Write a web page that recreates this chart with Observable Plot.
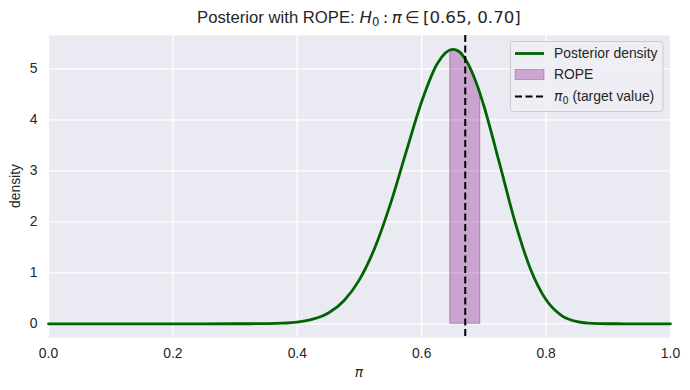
<!DOCTYPE html>
<html>
<head>
<meta charset="utf-8">
<script src="https://cdn.jsdelivr.net/npm/d3@7"></script>
<script src="https://cdn.jsdelivr.net/npm/@observablehq/plot@0.6"></script>
<style>
  html, body { margin: 0; padding: 0; background: white; }
  #chart { width: 690px; height: 390px; }
</style>
</head>
<body>
<div id="chart"></div>
<script>
// Posterior density curve
const piGrid = [0, 0.1, 0.2, 0.3, 0.325, 0.35, 0.375, 0.4, 0.425, 0.45, 0.475, 0.5, 0.525, 0.55, 0.575, 0.6, 0.625, 0.65, 0.66, 0.67, 0.68, 0.69, 0.7, 0.725, 0.75, 0.775, 0.8, 0.825, 0.85, 0.875, 0.9, 0.925, 1.0];
const densityVals = [0, 0, 0, 0.0002, 0.0008, 0.0032, 0.011, 0.034, 0.090, 0.212, 0.452, 0.865, 1.50, 2.36, 3.37, 4.36, 5.10, 5.38, 5.34, 5.19, 4.96, 4.65, 4.27, 3.15, 2.00, 1.07, 0.47, 0.16, 0.041, 0.007, 0.001, 0, 0];

// ROPE region (shaded under the curve), edges as drawn in the picture
const ropeX = [0.646, 0.66, 0.67, 0.68, 0.69, 0.694];
const ropeY = [5.38, 5.34, 5.19, 4.96, 4.65, 4.51];

// target value
const piTarget = [0.67];

// ticks
const xTicks = [0, 0.2, 0.4, 0.6, 0.8, 1.0];
const yTicks = [0, 1, 2, 3, 4, 5];

const curveData = piGrid.map((x, i) => ({x, y: densityVals[i]}));
const ropeData = ropeX.map((x, i) => ({x, y: ropeY[i]}));

const svg = Plot.plot({
  width: 690,
  height: 390,
  marginTop: 35,
  marginBottom: 53,
  marginLeft: 48,
  marginRight: 20,
  x: {domain: [0, 1]},
  y: {domain: [-0.269, 5.653]},
  style: {fontFamily: "'Liberation Sans', Arial, sans-serif", fontSize: "13.9px", color: "#262626", background: "white"},
  marks: [
    Plot.frame({fill: "#EAEAF2", stroke: null}),
    Plot.ruleX(xTicks, {stroke: "white", strokeWidth: 1.3}),
    Plot.ruleY(yTicks, {stroke: "white", strokeWidth: 1.3}),
    Plot.areaY(ropeData, {x: "x", y: "y", fill: "purple", fillOpacity: 0.3, stroke: "purple", strokeOpacity: 0.3, strokeWidth: 1.3, curve: "monotone-x"}),
    Plot.line(curveData, {x: "x", y: "y", stroke: "#006400", strokeWidth: 2.8, curve: "monotone-x"}),
    Plot.ruleX(piTarget, {stroke: "black", strokeWidth: 2, strokeDasharray: "7,3.5"}),
    Plot.axisX({ticks: xTicks, tickSize: 0, tickPadding: 11, tickFormat: d => d.toFixed(1), label: null}),
    Plot.axisY({ticks: yTicks, tickSize: 0, tickPadding: 11, tickFormat: d => String(d), label: null})
  ]
});

document.getElementById("chart").appendChild(svg);

const s = d3.select(svg);
const math = "'DejaVu Sans', sans-serif";
const txt = "'Liberation Sans', Arial, sans-serif";

// Title
const title = s.append("text")
  .attr("x", 359).attr("y", 23)
  .attr("text-anchor", "middle")
  .attr("fill", "#262626")
  .style("font-size", "16.7px")
  .style("font-family", txt);
title.append("tspan").text("Posterior with ROPE: ");
title.append("tspan").style("font-family", math).style("font-style", "italic").text("H");
title.append("tspan").style("font-family", math).style("font-size", "11.7px").attr("dy", 3).text("0");
title.append("tspan").style("font-family", math).attr("dy", -3).text("\u2009:\u2009");
title.append("tspan").style("font-family", math).style("font-style", "italic").text("π");
title.append("tspan").style("font-family", math).text("\u2009∈\u2009[0.65, 0.70]");

// Axis labels
s.append("text")
  .attr("x", 359).attr("y", 377)
  .attr("text-anchor", "middle")
  .attr("fill", "#262626")
  .style("font-family", math).style("font-style", "italic").style("font-size", "13.9px")
  .text("π");

s.append("text")
  .attr("transform", "translate(20,186) rotate(-90)")
  .attr("text-anchor", "middle")
  .attr("fill", "#262626")
  .style("font-family", txt).style("font-size", "13.9px")
  .text("density");

// Legend
const lg = s.append("g").attr("text-anchor", "start");
lg.append("rect")
  .attr("x", 510.5).attr("y", 41.5).attr("width", 152.5).attr("height", 70)
  .attr("rx", 3)
  .attr("fill", "#EEEEF4").attr("fill-opacity", 0.9)
  .attr("stroke", "#CCCCCC").attr("stroke-width", 1);

lg.append("line").attr("x1", 515).attr("x2", 544).attr("y1", 53.5).attr("y2", 53.5)
  .attr("stroke", "#006400").attr("stroke-width", 2.8);
lg.append("text").attr("x", 554).attr("y", 53.5).attr("dy", "0.35em")
  .attr("text-anchor", "start")
  .attr("fill", "#262626").style("font-family", txt).style("font-size", "13.9px")
  .text("Posterior density");

lg.append("rect").attr("x", 515).attr("y", 69.5).attr("width", 29).attr("height", 10)
  .attr("fill", "purple").attr("fill-opacity", 0.3)
  .attr("stroke", "purple").attr("stroke-opacity", 0.3);
lg.append("text").attr("x", 554).attr("y", 74.5).attr("dy", "0.35em")
  .attr("text-anchor", "start")
  .attr("fill", "#262626").style("font-family", txt).style("font-size", "13.9px")
  .text("ROPE");

lg.append("line").attr("x1", 515).attr("x2", 544).attr("y1", 96.5).attr("y2", 96.5)
  .attr("stroke", "black").attr("stroke-width", 2).attr("stroke-dasharray", "7,3.5");
const t3 = lg.append("text").attr("x", 554).attr("y", 96.5).attr("dy", "0.35em")
  .attr("text-anchor", "start")
  .attr("fill", "#262626").style("font-family", txt).style("font-size", "13.9px");
t3.append("tspan").style("font-family", math).style("font-style", "italic").text("π");
t3.append("tspan").style("font-family", math).style("font-size", "9.7px").attr("dy", 2.5).text("0");
t3.append("tspan").attr("dy", -2.5).text(" (target value)");
</script>
</body>
</html>
